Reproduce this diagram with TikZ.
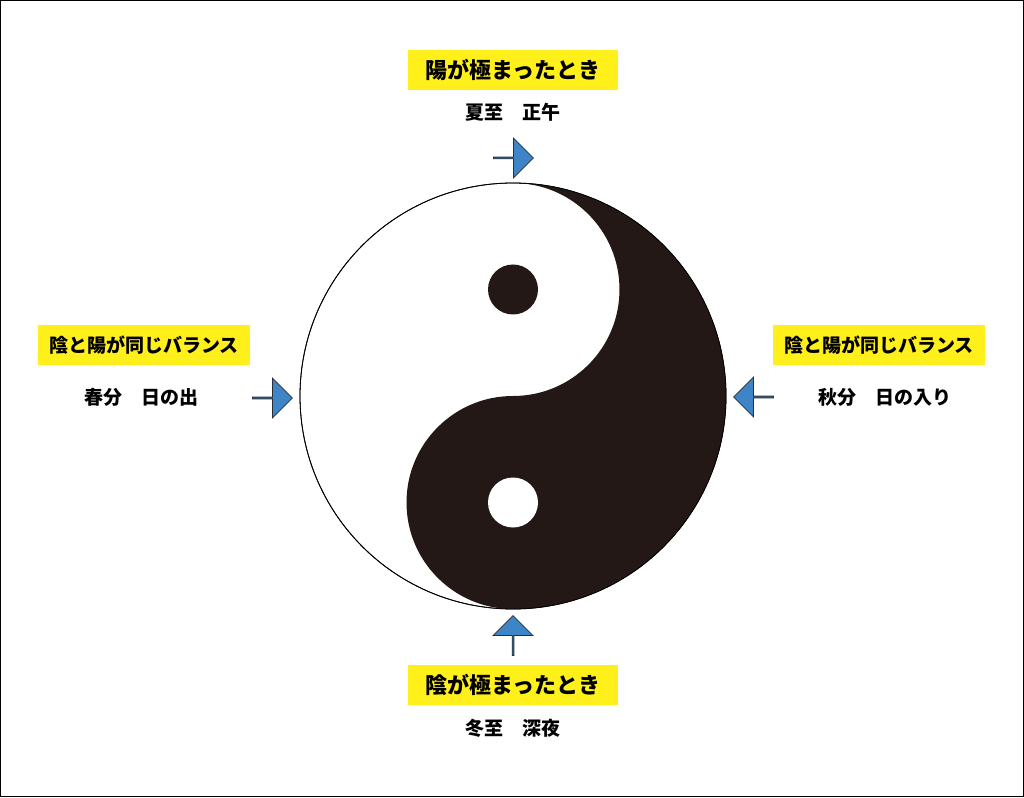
\documentclass[tikz,border=0pt]{standalone}
\usepackage{fontspec}
\setmainfont{Noto Sans CJK JP}
\usetikzlibrary{shapes.arrows}
\definecolor{ylw}{HTML}{FFEF1A}
\definecolor{arr}{HTML}{3D85C6}
\definecolor{blk}{HTML}{231815}
\begin{document}
\begin{tikzpicture}[x=1pt,y=1pt,
  lab/.style={fill=ylw,inner sep=0pt,minimum height=40,font=\bfseries\fontsize{#1}{#1}\selectfont},
  txt/.style={font=\bfseries\fontsize{19}{19}\selectfont},
  ar/.style={single arrow,draw=blk!80!arr,line width=0.8,fill=arr,minimum height=40,minimum width=40,single arrow head extend=9,inner sep=0pt,shape border rotate=#1}]
\draw[line width=1.2,fill=white] (-512.4,-400.4) rectangle (510.4,395.4);
\useasboundingbox (-513,-401) rectangle (511,396);
% yin yang
\draw[fill=white,line width=0.8] (0,0) circle (213);
\fill[blk] (0,213) arc[start angle=90,end angle=-90,radius=213]
  arc[start angle=-90,end angle=-270,radius=106.5]
  arc[start angle=-90,end angle=90,radius=106.5] -- cycle;
\draw[line width=0.8] (0,0) circle (213);
\fill[blk] (0,106.5) circle (25);
\fill[white] (0,-106.5) circle (25);
% arrows
\node[ar=-90] (at) at (0,238) {};
\node[ar=90] (ab) at (0,-240) {};
\node[ar=0] (al) at (-241,-2) {};
\node[ar=180] (arr) at (241,-1) {};
% labels
\node[lab=22,minimum width=210] (lt) at (0,326) {陽が極まったとき};
\node[txt] (tt) at (0,284) {夏至　正午};
\node[lab=19,minimum width=212] (ll) at (-369,51) {陰と陽が同じバランス};
\node[txt] (tl) at (-371,-1) {春分　日の出};
\node[lab=19,minimum width=212] (lr) at (366,51) {陰と陽が同じバランス};
\node[txt] (tr) at (372,-1) {秋分　日の入り};
\node[lab=22,minimum width=210] (lb) at (0,-289) {陰が極まったとき};
\node[txt] (tb) at (0,-332) {冬至　深夜};
\end{tikzpicture}
\end{document}
